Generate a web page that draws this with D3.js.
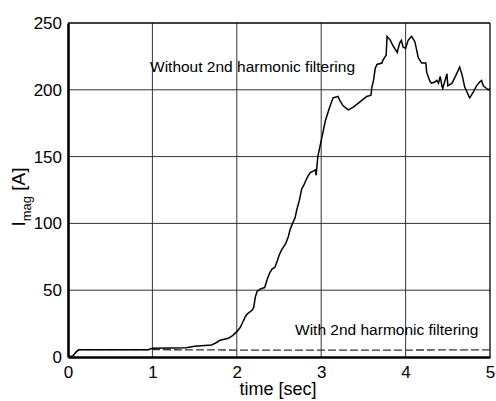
<!DOCTYPE html>
<html>
<head>
<meta charset="utf-8">
<script src="https://cdn.jsdelivr.net/npm/d3@7"></script>
<style>
  body { margin: 0; background: #fff; }
  text { font-family: "Liberation Sans", Arial, sans-serif; fill: #000; }
</style>
</head>
<body>
<svg id="chart" width="496" height="401"></svg>
<script>
// values
var xTicks = [0, 1, 2, 3, 4, 5];
var yTicks = [0, 50, 100, 150, 200, 250];

var tWithout = [0, 0.03, 0.06, 0.1, 0.13, 0.5, 0.95, 1.0, 1.4, 1.5, 1.7, 1.75, 1.8, 1.9, 1.95, 2.0,
    2.04, 2.07, 2.1, 2.12, 2.14, 2.18, 2.2, 2.22, 2.24, 2.28, 2.33, 2.36, 2.39, 2.42, 2.45, 2.48,
    2.5, 2.53, 2.56, 2.58, 2.61, 2.63, 2.66, 2.69, 2.71, 2.74, 2.76, 2.77, 2.79, 2.81, 2.84, 2.87,
    2.9, 2.93, 2.94, 2.96, 3.01, 3.05, 3.1, 3.14, 3.2, 3.22, 3.26, 3.32, 3.38, 3.46, 3.54, 3.59,
    3.6, 3.62, 3.64, 3.66, 3.72, 3.73, 3.77, 3.78, 3.82, 3.85, 3.9, 3.93, 3.95, 3.97, 4.0, 4.03,
    4.07, 4.11, 4.13, 4.15, 4.19, 4.24, 4.25, 4.29, 4.31, 4.35, 4.37, 4.39, 4.41, 4.43, 4.44, 4.49,
    4.5, 4.55, 4.59, 4.64, 4.67, 4.7, 4.73, 4.75, 4.76, 4.8, 4.84, 4.88, 4.9, 4.92, 4.96, 4.98, 5.0];
var iWithout = [2, 0, 1, 4, 5.5, 5.5, 5.5, 6.5, 7, 8, 9, 10.5, 12.5, 14, 16, 19,
    22, 26, 30, 32, 33, 35, 37, 45, 49, 51, 52, 58, 63, 66, 67, 72,
    76, 80, 83, 85, 90, 95, 100, 104, 110, 117, 123, 126, 128, 131, 135, 138,
    139, 140, 136, 150, 165, 177, 187, 194, 195, 192, 188, 185, 187, 191, 195, 196,
    202, 207, 216, 219, 220, 222, 226, 240, 237, 233, 228, 235, 237, 232, 231, 237,
    240, 236, 230, 224, 220, 220, 213, 206, 205, 206, 207, 205, 210, 203, 201, 212,
    203, 205, 210, 217, 211, 202, 198, 195, 194, 198, 203, 206, 207, 203, 201, 200, 201];

var tWith = [0, 0.03, 0.06, 0.1, 0.13, 1.0, 2.0, 3.0, 4.0, 5.0];
var iWith = [2, 0, 1, 4, 5.5, 5.5, 5.2, 5.2, 5.2, 5.4];

var svg = d3.select('#chart');
var x = d3.scaleLinear().domain([0, 5]).range([68, 490]);
var y = d3.scaleLinear().domain([0, 250]).range([357, 23]);

// grid
svg.append('g').selectAll('line.vx')
    .data(xTicks.slice(1, -1)).enter().append('line')
    .attr('x1', function (d) { return x(d); }).attr('x2', function (d) { return x(d); })
    .attr('y1', y(0)).attr('y2', y(250))
    .style('stroke', '#333').style('stroke-width', 1);
svg.append('g').selectAll('line.hy')
    .data(yTicks.slice(1, -1)).enter().append('line')
    .attr('y1', function (d) { return y(d); }).attr('y2', function (d) { return y(d); })
    .attr('x1', x(0)).attr('x2', x(5))
    .style('stroke', '#333').style('stroke-width', 1);

// frame: top/right thin, left/bottom thick
svg.append('line').attr('x1', x(0)).attr('x2', x(5)).attr('y1', y(250)).attr('y2', y(250))
    .style('stroke', '#000').style('stroke-width', 1.3);
svg.append('line').attr('x1', x(5)).attr('x2', x(5)).attr('y1', y(0)).attr('y2', y(250))
    .style('stroke', '#000').style('stroke-width', 1.3);

// axes via d3
var xAxis = svg.append('g').attr('transform', 'translate(0,' + y(0) + ')')
    .call(d3.axisBottom(x).tickValues(xTicks).tickSize(0).tickPadding(9).tickFormat(d3.format('d')));
var yAxis = svg.append('g').attr('transform', 'translate(' + x(0) + ',0)')
    .call(d3.axisLeft(y).tickValues(yTicks).tickSize(0).tickPadding(6).tickFormat(d3.format('d')));
[xAxis, yAxis].forEach(function (g) {
    g.select('.domain').style('stroke', '#000').style('stroke-width', 2.6);
    g.selectAll('text').style('font-size', '17px')
        .style('font-family', '"Liberation Sans", Arial, sans-serif').style('fill', '#000');
});

// curves
var line = d3.line()
    .x(function (d) { return x(d[0]); })
    .y(function (d) { return y(d[1]); });

svg.append('path')
    .datum(d3.zip(tWith, iWith))
    .attr('d', line)
    .style('fill', 'none').style('stroke', '#333').style('stroke-width', 1.3)
    .style('stroke-dasharray', '8,3');

svg.append('path')
    .datum(d3.zip(tWithout, iWithout))
    .attr('d', line)
    .style('fill', 'none').style('stroke', '#000').style('stroke-width', 1.5);

// annotations
svg.append('text').attr('x', 150).attr('y', 72).style('font-size', '15.5px')
    .text('Without 2nd harmonic filtering');
svg.append('text').attr('x', 295).attr('y', 335).style('font-size', '15.5px')
    .text('With 2nd harmonic filtering');

// axis labels
svg.append('text').attr('x', 278).attr('y', 395).attr('text-anchor', 'middle')
    .style('font-size', '18px').text('time [sec]');

var yl = svg.append('text').attr('transform', 'translate(25,197) rotate(-90)')
    .attr('text-anchor', 'middle').style('font-size', '19px');
yl.append('tspan').text('I');
yl.append('tspan').attr('dy', 6).style('font-size', '13px').text('mag');
yl.append('tspan').attr('dy', -6).text(' [A]');
</script>
</body>
</html>
